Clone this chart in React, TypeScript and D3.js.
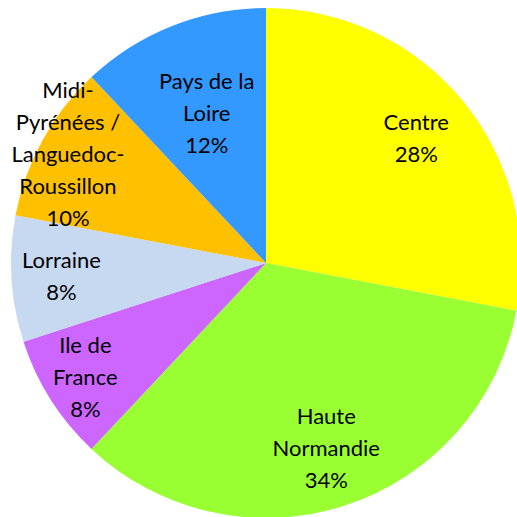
import React from "react";
import * as d3 from "d3";

const categories = ["Centre", "Haute Normandie", "Ile de France", "Lorraine", "Midi-Pyrénées / Languedoc-Roussillon", "Pays de la Loire"];
const values = [28, 34, 8, 8, 10, 12];
const labelLines = [
  ["Centre"],
  ["Haute", "Normandie"],
  ["Ile de", "France"],
  ["Lorraine"],
  ["Midi-", "Pyrénées /", "Languedoc-", "Roussillon"],
  ["Pays de la", "Loire"],
];
const colors = ["#FFFF00", "#99FF33", "#CC66FF", "#C6D9F1", "#FFC000", "#3399FF"];
const labelRadius = [195, 195, 214, 205, 226, 161];

export default function App() {
  const W = 517, H = 517;
  const cx = 266, cy = 263, r = 255;
  const pie = d3.pie<number>().value((d) => d).sort(null);
  const arcs = pie(values);
  const arc = d3.arc<d3.PieArcDatum<number>>().innerRadius(0).outerRadius(r);
  const total = d3.sum(values);
  const fs = 22, lh = 32;
  return (
    <svg width={W} height={H} style={{ position: "absolute", left: 0, top: 0 }} fontFamily="Lato, 'Open Sans', sans-serif">
      <g transform={`translate(${cx},${cy})`}>
        {arcs.map((a, i) => (
          <path key={categories[i]} d={arc(a) || ""} fill={colors[i]} />
        ))}
        {arcs.map((a, i) => {
          const mid = (a.startAngle + a.endAngle) / 2;
          const lr = labelRadius[i];
          const x = Math.sin(mid) * lr;
          const y = -Math.cos(mid) * lr;
          const lines = [...labelLines[i], `${Math.round((values[i] / total) * 100)}%`];
          const y0 = y - ((lines.length - 1) * lh) / 2;
          return (
            <text key={"l" + i} textAnchor="middle" fontSize={fs} fill="#000">
              {lines.map((t, j) => (
                <tspan key={j} x={x} y={y0 + j * lh} dy="0.35em">{t}</tspan>
              ))}
            </text>
          );
        })}
      </g>
    </svg>
  );
}
